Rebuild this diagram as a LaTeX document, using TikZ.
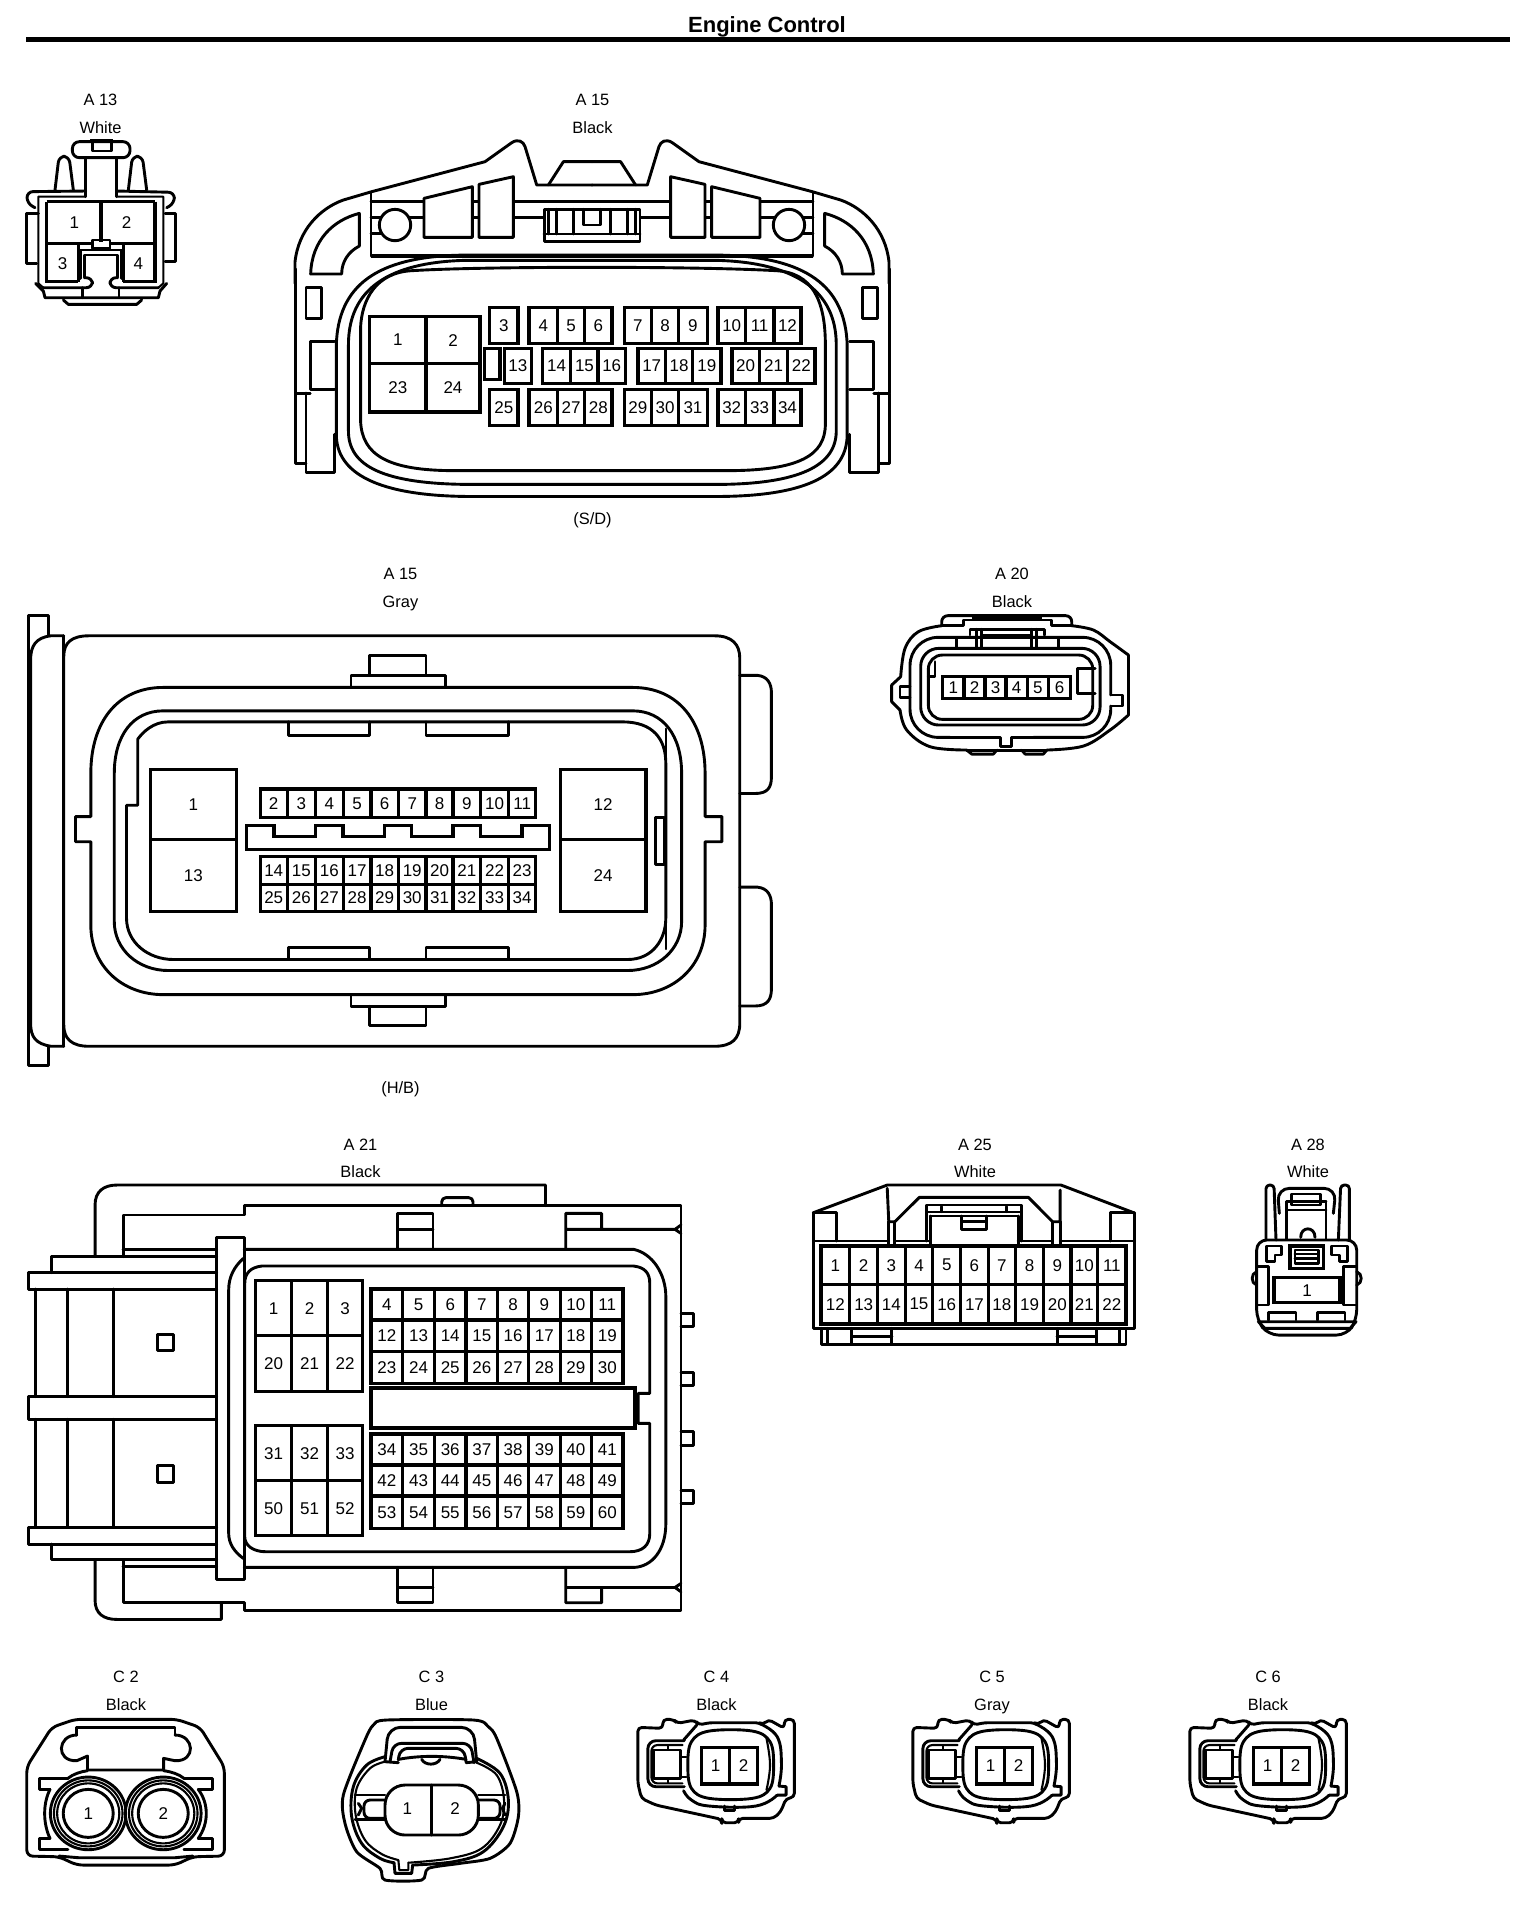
\documentclass[tikz,border=0pt]{standalone}
\usepackage{fontspec}
\setmainfont{Liberation Sans}
\tikzset{
  lab/.style={font=\fontsize{8.2}{10}\selectfont,inner sep=0pt},
  pin/.style={font=\fontsize{8.5}{10}\selectfont,inner sep=0pt},
  ln/.style={line width=1.45pt,line join=round,line cap=round},
  thin ln/.style={line width=1.05pt,line join=round,line cap=round},
  pinl/.style={line width=1.65pt,line join=miter},
  rc/.style={rounded corners=#1},
}
\newcommand{\cells}[4]{\foreach \a/\b [count=\n from #4] in #3 {\draw[pinl] (\a,#1) rectangle (\b,#2); \node[pin] (pin-\a-#1) at ({(\a+\b)/2},{(#1+#2)/2}) {\n};}}
\newcommand{\connlabel}[4]{\node[lab] (#1-a) at (#2,#3) {#4};}
\def\lbA{808/855,873/920,920/965,965/1010,1030/1075,1075/1120,1120/1167,1185/1230,1230/1277,1277/1322}
\def\lbB{832/877,895/942,942/987,987/1032,1053/1098,1098/1143,1143/1190,1208/1253,1253/1300,1300/1345}
\def\lbC{610/703,703/792}
\def\lgA{510/563,563/618,618/673,673/727,727/781,781/835,835/888,888/942,942/997,997/1050}
\def\lgB{295/463}
\def\lgC{1098/1266}
\def\ltA{557/635,635/713,713/790}
\def\ltB{808/877,877/946,946/1015,1015/1084,1084/1151,1151/1220,1220/1288,1288/1357}
\def\ltw{428/492,492/555,555/618,618/682,682/745,745/812}
\def\ltx{55/130,130/203,203/275,275/347,347/420,420/492,492/563,563/637,637/708,708/778,778/852}
\def\lty{72/270}
\def\ltz{228/307,307/385}
\newcommand{\connC}[1]{%
\begin{scope}[shift={(#1,1670)},x=.1786pt,y=-.1667pt]
\draw[ln,rc=2pt] (50,172)--(120,175)--(120,148)--(150,148)--(160,160)--(210,150)--(220,165)--(250,158)--(390,158)--(400,165)--(415,148)--(460,175)--(460,148)--(488,148)--(488,382)--(465,385)--(450,425)--(430,445)--(332,445)--(332,458)--(285,458)--(285,448)--(100,405)--(60,385)--(50,340)--cycle;
\draw[ln] plot[smooth,tension=.7] coordinates {(178,210)(215,165)};
\draw[ln] plot[smooth,tension=.7] coordinates {(390,160)(440,200)(452,280)(445,348)};
\draw[ln] (445,348)--(465,350)--(465,375)--(440,375);
\draw[ln] plot[smooth,tension=.7] coordinates {(440,375)(380,408)(250,408)(200,390)(178,362)};
\draw[ln] (292,408)--(292,422)--(320,422)--(320,408);
\draw[ln] plot[smooth cycle,tension=.6] coordinates {(250,183)(370,183)(420,215)(430,285)(420,355)(370,385)(250,385)(200,355)(190,285)(200,215)};
\draw[thin ln] plot[smooth,tension=.7] coordinates {(410,205)(420,285)(410,360)};
\cells{232}{342}{\ltz}{1}
\draw[ln,rc=4pt] (180,212)--(78,212)--(78,350)--(180,350);
\draw[thin ln,rc=3pt] (175,225)--(88,225)--(88,340)--(175,340);
\draw[ln] (95,240)--(170,240)--(170,325)--(95,325)--cycle;
\draw[thin ln] (135,228)--(135,238) (135,327)--(135,338) (170,262)--(186,262) (170,320)--(186,320);
\end{scope}}
\begin{document}
\begin{tikzpicture}[x=.5pt,y=-.5pt]
\useasboundingbox (0,0) rectangle (1536,1912);
\fill[white] (0,0) rectangle (1536,1912);
\node[font=\bfseries\fontsize{11}{13}\selectfont,inner sep=0pt] (title) at (767,27) {Engine Control};
\draw[line width=2.5pt] (26,39)--(1510,39);
% labels
\connlabel{a13}{100.5}{100}{A 13}\connlabel{a13b}{100.5}{127.5}{White}
\connlabel{a15}{592.5}{100}{A 15}\connlabel{a15b}{592.5}{127.5}{Black}\connlabel{a15c}{592.5}{520.5}{(S/D)}
\connlabel{g15}{400.5}{574}{A 15}\connlabel{g15b}{400.5}{603}{Gray}\connlabel{g15c}{400.5}{1089}{(H/B)}
\connlabel{a20}{1012}{574}{A 20}\connlabel{a20b}{1012}{601.5}{Black}
\connlabel{a21}{360.5}{1145}{A 21}\connlabel{a21b}{360.5}{1172}{Black}
\connlabel{a25}{975}{1145}{A 25}\connlabel{a25b}{975}{1172}{White}
\connlabel{a28}{1308}{1145}{A 28}\connlabel{a28b}{1308}{1172}{White}
\connlabel{c2}{126}{1677}{C 2}\connlabel{c2b}{126}{1705}{Black}
\connlabel{c3}{431.5}{1677}{C 3}\connlabel{c3b}{431.5}{1705}{Blue}
\connlabel{c4}{716.5}{1677}{C 4}\connlabel{c4b}{716.5}{1705}{Black}
\connlabel{c5}{992}{1677}{C 5}\connlabel{c5b}{992}{1706.5}{Gray}
\connlabel{c6}{1268}{1677}{C 6}\connlabel{c6b}{1268}{1705}{Black}
% A13
\begin{scope}[shift={(15,135)},x=.1667pt,y=-.1667pt]
\draw[ln,rc=3.5pt] (172,20)--(345,20)--(345,68)--(172,68)--cycle;
\draw[pinl] (225,18)--(295,18);
\draw[ln] (232,25)--(232,48)--(290,48)--(290,25);
\draw[ln,rc=3pt] (120,165)--(132,64)--(162,64)--(175,165);
\draw[ln,rc=3pt] (340,165)--(352,64)--(382,64)--(395,165);
\draw[ln] (212,68)--(212,168) (305,68)--(305,168);
\draw[ln,rc=3pt] (60,218)--(36,205)--(36,170)--(212,168);
\draw[ln,rc=3pt] (455,218)--(478,205)--(478,172)--(305,168);
\draw[thin ln] (212,185)--(70,185)--(70,445)--(85,458) (305,185)--(445,185)--(445,445)--(430,458);
\draw[pinl] (95,200)--(420,200) (95,200)--(95,440)--(190,440) (420,200)--(420,440)--(325,440);
\draw[ln] (212,168)--(212,185) (305,168)--(305,185);
\draw[pinl] (258,200)--(258,320) (95,325)--(232,325) (285,325)--(420,325) (190,325)--(190,440) (325,325)--(325,440);
\draw[ln] (232,315) rectangle (285,340);
\draw[ln] (197,430)--(197,345)--(320,345)--(320,430);
\draw[ln] (208,425)--(208,360)--(308,360)--(308,425);
\draw[ln] (70,235)--(35,235)--(35,385)--(65,385);
\draw[ln] (450,235)--(482,235)--(482,380)--(450,380);
\draw[ln,rc=3pt] (208,428)--(232,428)--(232,458)--(85,458);
\draw[ln,rc=3pt] (308,428)--(285,428)--(285,458)--(430,458);
\draw[ln] (62,445)--(85,468)--(90,488)--(430,488)--(435,468)--(455,445);
\draw[ln] (145,495)--(160,508)--(365,508)--(380,495);
\draw[ln] (202,458)--(202,488) (312,458)--(312,488);
\node[pin] (a13p1) at (178,262) {1};\node[pin] (a13p2) at (335,262) {2};\node[pin] (a13p3) at (143,385) {3};\node[pin] (a13p4) at (370,385) {4};
\end{scope}
% A15 Black, upper part (left half and its mirror image)
\foreach \ox/\sx in {290/.1667,894/-.1667} {
\begin{scope}[shift={(\ox,130)},x=\sx pt,y=-.1667pt]
\draw[ln] (15,460)--(15,396) .. controls (25,300) and (90,235) .. (160,210)--(245,185)--(585,95)--(665,38) .. controls (685,25) and (700,35) .. (705,50)--(740,165)--(906,165);
\draw[ln] (775,165)--(820,95)--(906,95);
\draw[ln] (243,190)--(243,378);
\draw[ln] (243,215)--(906,215);
\draw[ln] (243,263)--(762,263);
\draw[ln] (243,310)--(300,310);
\draw[ln,fill=white] (315,285) circle [x radius=47,y radius=47];
\draw[ln,fill=white] (402,205)--(547,170)--(547,322)--(402,322)--cycle;
\draw[ln,fill=white] (567,163)--(670,140)--(670,322)--(567,322)--cycle;
\fill[white] (764,240) rectangle (906,333);
\draw[ln] (906,238)--(762,238)--(762,335)--(906,335);
\draw[ln] (762,312)--(906,312);
\draw[ln] (775,238)--(775,312) (800,238)--(800,312) (850,238)--(850,312);
\draw[ln] (880,238)--(880,285)--(906,285);
\draw[line width=2pt] (243,378)--(906,378);
\draw[ln] (208,250) .. controls (130,270) and (65,330) .. (62,432)--(155,432) .. controls (155,395) and (175,365) .. (208,348)--cycle;
\end{scope}}
% A15 Black
\begin{scope}[x=.303pt,y=-.1724pt]
\draw[ln] (487,780)--(487,1140) (1468,780)--(1468,1140);
\draw[ln] (505,835) rectangle (530,925);
\draw[ln] (1423,835) rectangle (1448,925);
\draw[ln] (552,990)--(512,990)--(512,1130)--(552,1130);
\draw[ln] (1402,990)--(1442,990)--(1442,1130)--(1402,1130);
\draw[ln] (512,1140)--(487,1140)--(487,1345)--(505,1345);
\draw[ln] (1442,1140)--(1468,1140)--(1468,1345)--(1450,1345);
\draw[ln] (505,1140)--(505,1370)--(552,1370)--(552,1260);
\draw[ln] (1450,1140)--(1450,1370)--(1402,1370)--(1402,1260);
\draw[ln] (760,740) -- (1190,740) .. controls (1330,745) and (1395,830) .. (1398,1000) -- (1398,1260) .. controls (1398,1370) and (1340,1440) .. (1180,1440) -- (780,1440) .. controls (620,1440) and (555,1370) .. (555,1260) -- (555,1000) .. controls (558,830) and (620,745) .. (760,740) -- cycle;
\draw[ln] (770,755)--(1180,755) .. controls (1310,760) and (1380,840) .. (1380,1000) -- (1380,1250) .. controls (1380,1350) and (1320,1405) .. (1180,1405)--(780,1405) .. controls (630,1405) and (575,1350) .. (575,1250)--(575,1000) .. controls (575,840) and (640,760) .. (770,755)--cycle;
\draw[ln] (680,785) .. controls (800,772) and (1150,772) .. (1280,785) .. controls (1340,790) and (1362,870) .. (1362,1000)--(1362,1230) .. controls (1362,1320) and (1320,1365) .. (1200,1365)--(750,1365) .. controls (640,1365) and (597,1320) .. (595,1220)--(595,950) .. controls (597,870) and (620,790) .. (680,785)--cycle;
\cells{918}{1055}{\lbC}{1}
\cells{1055}{1195}{\lbC}{23}
\cells{892}{997}{\lbA}{3}
\cells{1010}{1113}{\lbB}{13}
\cells{1130}{1235}{\lbA}{25}
\draw[pinl] (800,1010) rectangle (825,1100);
\end{scope}
% A15 Gray
\begin{scope}[shift={(0,560)},x=.2551pt,y=-.1722pt]
\draw[ln] (95,220)--(95,162)--(55,162)--(55,1468)--(95,1468)--(95,1412);
\draw[ln] (125,220)--(100,220) .. controls (70,225) and (60,250) .. (60,290)--(60,1345) .. controls (60,1385) and (70,1405) .. (100,1412)--(125,1412);
\draw[ln] (125,1350)--(125,280) .. controls (125,240) and (140,220) .. (175,220)--(1400,220) .. controls (1435,220) and (1450,245) .. (1450,285)--(1450,1345) .. controls (1450,1390) and (1435,1412) .. (1400,1412)--(175,1412) .. controls (140,1412) and (125,1390) .. (125,1350)--cycle;
\draw[ln] (125,220)--(125,1412);
\draw[ln] (1450,335)--(1485,335) .. controls (1505,338) and (1512,360) .. (1512,385)--(1512,630) .. controls (1512,660) and (1505,678) .. (1480,678)--(1450,678);
\draw[ln] (1450,950)--(1485,950) .. controls (1505,953) and (1512,975) .. (1512,1000)--(1512,1245) .. controls (1512,1275) and (1505,1295) .. (1480,1295)--(1450,1295);
\draw[ln] (725,335)--(725,278)--(835,278)--(835,335);
\draw[ln] (688,368)--(688,335)--(873,335)--(873,368);
\draw[ln] (688,1265)--(688,1296)--(873,1296)--(873,1265);
\draw[ln] (725,1296)--(725,1352)--(835,1352)--(835,1296);
\draw[ln] (320,370)--(1240,370) .. controls (1330,370) and (1382,470) .. (1382,620)--(1382,745)--(1415,745)--(1415,818)--(1382,818)--(1382,1060) .. controls (1382,1180) and (1320,1262) .. (1240,1262)--(320,1262) .. controls (240,1262) and (178,1180) .. (178,1060)--(178,818)--(148,818)--(148,745)--(178,745)--(178,620) .. controls (178,470) and (230,370) .. (320,370)--cycle;
\draw[ln] (320,438)--(1240,438) .. controls (1300,438) and (1336,510) .. (1336,620)--(1336,1050) .. controls (1336,1130) and (1290,1192) .. (1230,1192)--(330,1192) .. controls (270,1192) and (224,1130) .. (224,1050)--(224,620) .. controls (224,510) and (260,438) .. (320,438)--cycle;
\draw[ln] (270,520)--(270,712)--(248,712)--(248,1040) .. controls (248,1110) and (290,1160) .. (340,1160)--(1230,1160) .. controls (1280,1160) and (1305,1100) .. (1305,1040)--(1305,590) .. controls (1305,520) and (1280,470) .. (1220,470)--(330,470) .. controls (300,470) and (280,500) .. (270,520)--cycle;
\draw[thin ln] (1305,490)--(1305,1130);
\draw[ln] (565,470)--(565,510)--(725,510)--(725,470) (835,470)--(835,510)--(997,510)--(997,470);
\draw[ln] (565,1160)--(565,1125)--(725,1125)--(725,1160) (835,1160)--(835,1125)--(997,1125)--(997,1160);
\draw[ln] (1285,748) rectangle (1303,885);
\cells{608}{812}{\lgB}{1}\cells{812}{1020}{\lgB}{13}
\cells{608}{812}{\lgC}{12}\cells{812}{1020}{\lgC}{24}
\cells{665}{748}{\lgA}{2}\cells{860}{943}{\lgA}{14}\cells{943}{1020}{\lgA}{25}
\draw[pinl] (483,770)--(537,770)--(537,803)--(618,803)--(618,770)--(672,770)--(672,803)--(753,803)--(753,770)--(807,770)--(807,803)--(888,803)--(888,770)--(942,770)--(942,803)--(1023,803)--(1023,770)--(1077,770)--(1077,840)--(483,840)--cycle;
\end{scope}
% A20
\begin{scope}[shift={(800,560)},x=.1667pt,y=-.1667pt]
\draw[ln,rc=3pt] (425,197)--(425,167)--(815,167)--(815,197);
\draw[ln] (425,197)--(490,197)--(490,180)--(755,180)--(755,197)--(815,197);
\draw[line width=1.8pt] (515,175)--(725,175);
\draw[ln] plot[smooth,tension=.6] coordinates {(425,197)(355,215)(315,265)(302,350)};
\draw[ln] (302,350)--(275,375)--(275,425)--(300,450);
\draw[ln] plot[smooth,tension=.6] coordinates {(300,450)(320,510)(390,560)(500,570)};
\draw[ln] (500,570)--(740,570);
\draw[ln] (500,570)--(515,582)--(580,582)--(590,570) (665,570)--(675,582)--(730,582)--(740,570);
\draw[ln] plot[smooth,tension=.6] coordinates {(815,197)(880,210)(930,245)(985,285)};
\draw[ln] (985,285)--(985,465);
\draw[ln] plot[smooth,tension=.6] coordinates {(985,465)(930,510)(850,558)(740,570)};
\draw[ln,rc=14pt] (450,532)--(330,532)--(330,232)--(932,232)--(932,405);
\draw[ln] (932,405)--(968,405)--(968,438)--(932,438);
\draw[ln,rc=14pt] (932,438)--(932,532)--(700,532);
\draw[ln] (450,532)--(602,532)--(602,558)--(635,558)--(635,532)--(700,532);
\draw[ln] (330,380)--(300,380)--(300,412)--(330,412);
\draw[ln,rc=9pt] (362,265) rectangle (900,495);
\draw[ln,rc=7pt] (385,285) rectangle (878,478);
\draw[ln] (385,350)--(405,350)--(405,305);
\draw[ln] (885,325)--(832,325)--(832,400)--(885,400);
\draw[ln] (510,225)--(510,208)--(732,208)--(732,225);
\draw[ln] (530,208)--(530,265) (545,208)--(545,265) (695,208)--(695,265) (710,208)--(710,265);
\draw[ln] (545,225)--(695,225);
\draw[ln] (470,238)--(470,265) (775,238)--(775,265);
\cells{350}{415}{\ltw}{1}
\end{scope}
% A21
\begin{scope}[shift={(0,1140)},x=.2296pt,y=-.1667pt]
\draw[ln] (207,350)--(207,195) .. controls (207,155) and (225,135) .. (255,135)--(1188,135)--(1188,197);
\draw[ln] (207,1262)--(207,1380) .. controls (207,1420) and (225,1438) .. (255,1438)--(482,1438)--(482,1392);
\draw[ln] (472,225)--(532,225)--(532,197)--(1483,197)--(1483,1412)--(532,1412)--(532,1388)--(268,1388)--(268,1262);
\draw[ln] (472,225)--(268,225)--(268,350);
\draw[ln] (268,328)--(472,328) (268,1280)--(472,1280);
\draw[ln,rc=2pt] (962,197)--(962,173)--(1030,173)--(1030,197);
\draw[ln] (112,398)--(112,350)--(472,350) (112,1212)--(112,1258)--(472,1258);
\draw[ln] (472,398)--(62,398)--(62,447)--(472,447);
\draw[ln] (472,770)--(62,770)--(62,838)--(472,838);
\draw[ln] (472,1162)--(62,1162)--(62,1212)--(472,1212);
\foreach \x in {78,147,248} \draw[ln] (\x,447)--(\x,770) (\x,838)--(\x,1162);
\draw[ln] (343,583) rectangle (378,632) (343,975) rectangle (378,1027);
\draw[ln] (472,292)--(532,292)--(532,1318)--(472,1318)--cycle;
\draw[ln] (532,328)--(1380,328) .. controls (1420,340) and (1450,400) .. (1450,470)--(1450,1150) .. controls (1450,1230) and (1420,1280) .. (1380,1282)--(532,1282);
\draw[ln] (530,355) .. controls (510,380) and (498,410) .. (498,450)--(498,1180) .. controls (498,1210) and (510,1235) .. (530,1255);
\draw[ln] (570,378)--(1380,378) .. controls (1405,382) and (1415,400) .. (1415,430)--(1415,760)--(1390,760)--(1390,850)--(1415,850)--(1415,1180) .. controls (1415,1215) and (1400,1235) .. (1370,1235)--(580,1235) .. controls (550,1235) and (533,1215) .. (533,1190)--(533,430) .. controls (533,400) and (545,382) .. (570,378)--cycle;
\foreach \y in {520,697,875,1050} \draw[ln] (1483,\y)--(1510,\y)--(1510,\y+40)--(1483,\y+40);
\draw[ln] (866,328)--(866,220)--(943,220)--(943,328) (866,268)--(943,268);
\draw[ln] (1232,328)--(1232,220)--(1310,220)--(1310,268) (1232,268)--(1470,268)--(1483,255) (1470,268)--(1483,280);
\draw[ln] (866,1282)--(866,1388)--(943,1388)--(943,1282) (866,1342)--(943,1342);
\draw[ln] (1232,1282)--(1232,1388)--(1310,1388)--(1310,1342) (1232,1342)--(1470,1342)--(1483,1330) (1470,1342)--(1483,1355);
\cells{422}{587}{\ltA}{1}\cells{587}{755}{\ltA}{20}
\cells{857}{1022}{\ltA}{31}\cells{1022}{1187}{\ltA}{50}
\cells{447}{540}{\ltB}{4}\cells{540}{635}{\ltB}{12}\cells{635}{730}{\ltB}{23}
\cells{882}{975}{\ltB}{34}\cells{975}{1068}{\ltB}{42}\cells{1068}{1165}{\ltB}{53}
\draw[line width=2pt] (808,745) rectangle (1383,863);
\end{scope}
% A25
\begin{scope}[shift={(800,1140)},x=.1913pt,y=-.1667pt]
\draw[ln] (35,218)--(228,135)--(682,135)--(872,218);
\draw[ln] (35,218)--(35,565)--(875,565)--(875,218);
\draw[ln] (35,218)--(95,218)--(95,303) (812,303)--(812,218)--(872,218);
\draw[ln] (228,145)--(232,245)--(248,245)--(312,172)--(597,172)--(660,245)--(680,245)--(680,150);
\draw[ln] (232,245)--(232,318) (248,245)--(248,318) (660,245)--(660,318) (680,245)--(680,318);
\draw[ln] (330,303)--(330,195)--(578,195)--(578,303);
\draw[thin ln] (335,215)--(575,215);
\draw[ln] (340,228)--(570,228);
\draw[ln] (340,228)--(340,312) (570,228)--(570,312) (370,200)--(370,215) (540,200)--(540,215);
\draw[ln] (422,228)--(422,268)--(487,268)--(487,228) (422,245)--(487,245);
\draw[ln] (35,303)--(232,303) (248,303)--(340,303) (570,303)--(660,303) (680,303)--(875,303);
\cells{318}{433}{\ltx}{1}
\cells{433}{552}{\ltx}{12}
\draw[ln] (55,565)--(55,612)--(852,612)--(852,565);
\draw[ln] (72,565)--(72,612) (835,565)--(835,612);
\draw[ln] (135,588)--(240,588) (135,565)--(135,612) (240,565)--(240,612);
\draw[ln] (672,588)--(775,588) (672,565)--(672,612) (775,565)--(775,612);
\end{scope}
% A28
\begin{scope}[shift={(1250,1180)},x=.1667pt,y=-.1667pt]
\draw[ln,rc=1.8pt] (48,180)--(48,15)--(72,15)--(78,180);
\draw[ln,rc=1.8pt] (265,180)--(272,15)--(298,15)--(298,180);
\draw[ln,rc=6pt] (88,100)--(82,25)--(258,25)--(250,100);
\draw[ln] (125,42) rectangle (212,75);
\draw[ln] (110,65)--(228,65);
\draw[ln] (110,90)--(228,90);
\draw[ln] (110,65)--(110,178) (228,65)--(228,178);
\draw[ln] (152,172) .. controls (152,138) and (195,138) .. (195,172);
\draw[ln,rc=5pt] (20,180)--(20,420)--(55,465)--(290,465)--(320,420)--(320,180)--cycle;
\draw[ln] (20,275) .. controls (2,280) and (2,310) .. (20,315);
\draw[ln] (320,275) .. controls (338,280) and (338,310) .. (320,315);
\draw[ln] (50,198)--(95,198)--(95,225)--(75,225)--(75,245)--(50,245)--cycle;
\draw[ln] (245,198)--(292,198)--(292,245)--(268,245)--(268,225)--(245,225)--cycle;
\draw[pinl] (120,198) rectangle (220,265);
\draw[ln] (135,210) rectangle (205,250);
\draw[ln] (135,222)--(205,222) (135,235)--(205,235);
\draw[ln] (22,260)--(55,260)--(55,375)--(22,375);
\draw[ln] (318,260)--(280,260)--(280,375)--(318,375);
\cells{293}{368}{\lty}{1}
\draw[ln] (55,420)--(55,398)--(138,398)--(138,420) (202,420)--(202,398)--(285,398)--(285,420);
\draw[ln] (25,425)--(318,425) (45,445)--(300,445) (25,425)--(45,445) (318,425)--(300,445);
\end{scope}
% C2
\begin{scope}[shift={(0,1670)},x=.1786pt,y=-.1667pt]
\draw[ln,rc=3pt] (75,290)--(145,172)--(210,148)--(495,148)--(560,172)--(628,290)--(628,558)--(540,560)--(490,585)--(215,585)--(165,560)--(75,558)--cycle;
\draw[ln] (215,195)--(215,172)--(490,172)--(490,195);
\draw[ln] (215,195) .. controls (160,195) and (155,275) .. (215,272)--(245,258)--(245,300)--(458,300)--(458,265)--(490,272) .. controls (550,275) and (545,195) .. (490,195);
\draw[ln] (190,325)--(110,325)--(110,358)--(140,358);
\draw[ln] (515,325)--(595,325)--(595,358)--(555,358);
\draw[ln] (190,538)--(110,538)--(110,505)--(140,505);
\draw[ln] (515,538)--(595,538)--(595,505)--(555,505);
\draw[ln] (140,358) .. controls (120,400) and (120,460) .. (140,505);
\draw[ln] (555,358) .. controls (585,400) and (585,460) .. (555,505);
\draw[ln] (165,558) -- (220,563)--(490,563)--(540,558);
\draw[ln] (190,325) .. controls (205,312) and (225,305) .. (245,302) (458,302) .. controls (480,305) and (500,312) .. (515,325);
\foreach \c in {247,457} {
\draw[ln,fill=white] (\c,430) ellipse [x radius=106,y radius=109];
\draw[thin ln] (\c,430) ellipse [x radius=96,y radius=99];
\draw[thin ln] (\c,430) ellipse [x radius=87,y radius=90];
\draw[ln] (\c,430) ellipse [x radius=70,y radius=72];}
\node[pin] (c2p1) at (247,430) {1};\node[pin] (c2p2) at (457,430) {2};
\end{scope}
% C3
\begin{scope}[shift={(340,1720)},x=.1667pt,y=-.1667pt]
\draw[ln] plot[smooth cycle,tension=.45] coordinates {(140,0)(400,0)(445,20)(470,55)(530,215)(535,290)(510,370)(450,415)(360,430)(265,445)(245,480)(135,480)(120,445)(50,395)(15,310)(10,225)(75,60)(100,15)};
\draw[ln] plot[smooth,tension=.6] coordinates {(135,110)(80,135)(40,200)(35,290)(65,370)(120,415)(162,428)};
\draw[ln] (162,428)--(165,460)--(215,460)--(218,435);
\draw[ln] plot[smooth,tension=.6] coordinates {(218,435)(340,425)(430,395)(490,320)(505,240)(480,160)(410,115)};
\draw[thin ln] plot[smooth,tension=.6] coordinates {(135,125)(90,145)(50,205)(47,285)(75,360)(125,402)(175,420)};
\draw[thin ln] (175,420)--(178,450)--(205,450)--(205,428);
\draw[thin ln] plot[smooth,tension=.6] coordinates {(205,428)(330,415)(425,385)(480,315)(492,240)(470,165)(410,128)};
\draw[ln,rc=6pt] (135,125)--(145,22)--(400,22)--(410,125);
\draw[ln,rc=4pt] (150,125)--(160,70)--(392,70)--(402,128);
\draw[ln,rc=4pt] (175,120)--(180,85)--(372,85)--(378,125);
\draw[ln] (135,125)--(175,128) (378,128)--(410,125);
\draw[ln] (175,118) .. controls (240,106) and (310,106) .. (378,118);
\draw[ln] (245,118) .. controls (255,137) and (290,137) .. (300,118);
\draw[ln,rc=10pt] (135,195)--(415,195)--(415,345)--(135,345)--cycle;
\draw[ln] (275,195)--(275,345);
\draw[ln] (135,225)--(45,225) (135,298)--(45,298);
\draw[ln,rc=3pt] (135,240)--(72,240)--(72,295)--(135,295);
\draw[ln] (55,250)--(65,265)--(55,285);
\draw[ln] (415,225)--(495,225) (415,298)--(495,298);
\draw[ln,rc=3pt] (415,240)--(480,240)--(480,295)--(415,295);
\draw[ln] (495,250)--(487,265)--(495,285);
\node[pin] (c3p1) at (202,265) {1};\node[pin] (c3p2) at (345,265) {2};
\end{scope}
\connC{620}\connC{895}\connC{1172}
\end{tikzpicture}
\end{document}
